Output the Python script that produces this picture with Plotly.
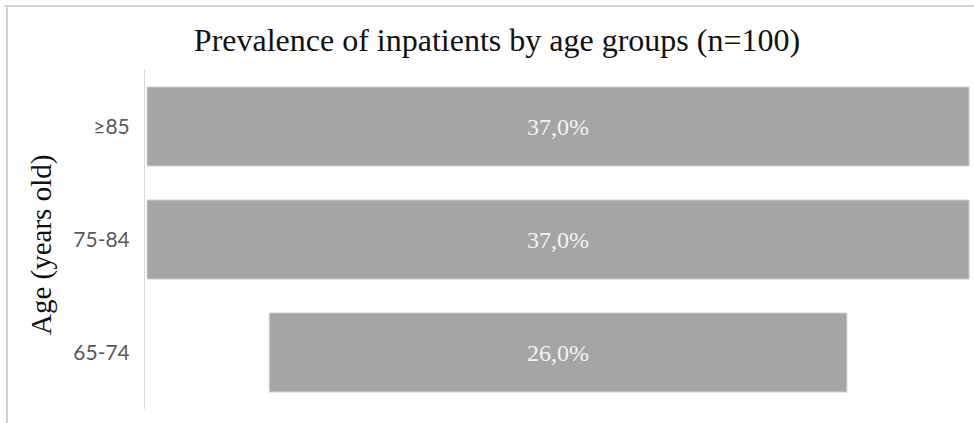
import plotly.graph_objects as go

# Age groups (top to bottom) and share of inpatients, in percent
age_groups = ["≥85", "75-84", "65-74"]
share_pct = [37.0, 37.0, 26.0]

W, H = 974, 423
M_L, M_R, M_T, M_B = 145, 0, 70, 14
plot_w = W - M_L - M_R
plot_h = H - M_T - M_B

SERIF = "Times New Roman, Liberation Serif, serif"


def px_x(px):
    return (px - M_L) / plot_w


def px_y(py):
    return (H - M_B - py) / plot_h


label_font = dict(family=SERIF, size=24, color="#f2f2f2")

fig = go.Figure(
    go.Funnel(
        y=age_groups,
        x=share_pct,
        texttemplate="%{x:.1f}%",
        textposition="inside",
        insidetextanchor="middle",
        textfont=label_font,
        insidetextfont=label_font,
        constraintext="none",
        marker=dict(color="#a5a5a5", line=dict(color="#d4d4d4", width=1)),
        connector=dict(visible=False),
        hoverinfo="y+x",
    )
)

fig.update_layout(
    width=W,
    height=H,
    margin=dict(l=M_L, r=M_R, t=M_T, b=M_B),
    paper_bgcolor="white",
    plot_bgcolor="white",
    separators=",.",
    funnelgap=0.30,
    showlegend=False,
    font=dict(family=SERIF),
    title=dict(
        text="Prevalence of inpatients by age groups (n=100)",
        font=dict(family=SERIF, size=32, color="#111111"),
        x=497 / W,
        xanchor="center",
        y=1 - 40 / H,
        yanchor="middle",
    ),
    xaxis=dict(visible=False, range=[-18.59, 18.72]),
    yaxis=dict(
        showline=True,
        linecolor="#d9d9d9",
        linewidth=1,
        showgrid=False,
        ticks="",
        ticklabelstandoff=10,
        tickfont=dict(family="Lato", size=21, color="#595959"),
    ),
    annotations=[
        dict(
            text="Age (years old)",
            textangle=-90,
            xref="paper",
            yref="paper",
            x=px_x(41),
            y=px_y(245),
            xanchor="center",
            yanchor="middle",
            showarrow=False,
            font=dict(family=SERIF, size=29, color="#111111"),
        )
    ],
    shapes=[
        dict(type="line", xref="paper", yref="paper",
             x0=px_x(4), x1=px_x(W + 2), y0=px_y(6), y1=px_y(6),
             line=dict(color="#c4c4c4", width=1.5)),
        dict(type="line", xref="paper", yref="paper",
             x0=px_x(7), x1=px_x(7), y0=px_y(6), y1=px_y(H + 2),
             line=dict(color="#c4c4c4", width=1.5)),
    ],
)

fig.write_html("out.html")
